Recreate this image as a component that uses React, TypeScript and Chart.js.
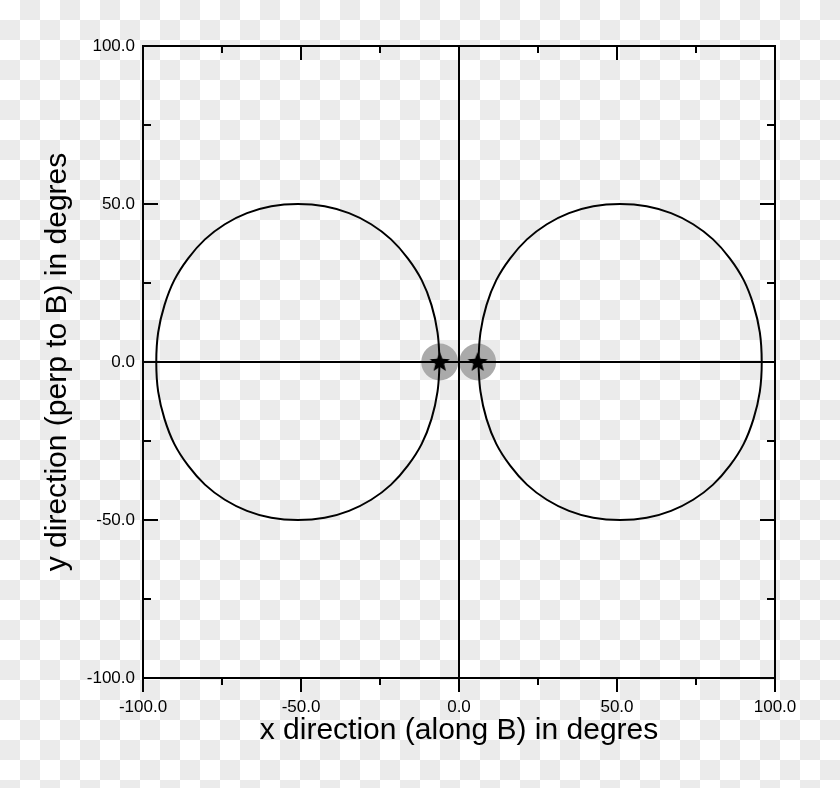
import { useEffect, useRef } from "react"
import { Chart, registerables } from "chart.js"
import type { Plugin } from "chart.js"

Chart.register(...registerables)

// axis range and ticks (minor every 25, labels every 50)
const axisMin = -100
const axisMax = 100
const tickStep = 25
const labeledTicks = [-100, -50, 0, 50, 100]

// loops: start at the inner tip, over the top, round the outer side, back along the bottom
const leftLoopX = [
  -6.1, -6.8, -8.7, -11.8, -16.2, -21.5, -27.8, -34.8, -42.5, -51.0,
  -59.4, -67.1, -74.1, -80.4, -85.7, -90.1, -93.2, -95.2, -95.8,
  -95.2, -93.2, -90.1, -85.7, -80.4, -74.1, -67.1, -59.4, -51.0,
  -42.5, -34.8, -27.8, -21.5, -16.2, -11.8, -8.7, -6.8, -6.1,
]
const rightLoopX = [
  6.1, 6.8, 8.7, 11.8, 16.2, 21.5, 27.8, 34.8, 42.5, 51.0,
  59.4, 67.1, 74.1, 80.4, 85.7, 90.1, 93.2, 95.2, 95.8,
  95.2, 93.2, 90.1, 85.7, 80.4, 74.1, 67.1, 59.4, 51.0,
  42.5, 34.8, 27.8, 21.5, 16.2, 11.8, 8.7, 6.8, 6.1,
]
const loopY = [
  0, 9.4, 18.0, 25.9, 32.8, 38.8, 43.6, 47.1, 49.3, 50.0,
  49.3, 47.1, 43.6, 38.8, 32.8, 25.9, 18.0, 9.4, 0,
  -9.4, -18.0, -25.9, -32.8, -38.8, -43.6, -47.1, -49.3, -50.0,
  -49.3, -47.1, -43.6, -38.8, -32.8, -25.9, -18.0, -9.4, 0,
]

// star markers at the inner tips
const starX = [-6.1, 5.9]
const starY = [0, 0]

// the two zero lines
const hLineX = [-100, 100]
const hLineY = [0, 0]
const vLineX = [0, 0]
const vLineY = [-100, 100]

const font = "'Liberation Sans', Arial, Helvetica, sans-serif"

const toPoints = (xs: number[], ys: number[]) => xs.map((x, i) => ({ x, y: ys[i] }))

function makeStar(): HTMLCanvasElement {
  const c = document.createElement("canvas")
  c.width = 24
  c.height = 24
  const g = c.getContext("2d")!
  g.beginPath()
  for (let i = 0; i < 10; i++) {
    const r = i % 2 === 0 ? 10.5 : 4.6
    const a = -Math.PI / 2 + (i * Math.PI) / 5
    const px = 12 + r * Math.cos(a)
    const py = 12.5 + r * Math.sin(a)
    if (i === 0) g.moveTo(px, py)
    else g.lineTo(px, py)
  }
  g.closePath()
  g.fillStyle = "#000"
  g.fill()
  return c
}

// box round the plot, ticks inward on left/top/right and outward at the bottom
const frameAndTicks: Plugin<"scatter"> = {
  id: "frameAndTicks",
  afterDatasetsDraw(chart) {
    const { ctx, chartArea, scales } = chart
    const { left, right, top, bottom } = chartArea
    ctx.save()
    ctx.strokeStyle = "#000"
    ctx.lineWidth = 2
    ctx.strokeRect(left, top, right - left, bottom - top)
    ctx.beginPath()
    for (const t of scales.x.ticks) {
      const px = scales.x.getPixelForValue(t.value)
      const len = labeledTicks.includes(t.value) ? 14 : 7
      ctx.moveTo(px, bottom)
      ctx.lineTo(px, bottom + len)
      ctx.moveTo(px, top)
      ctx.lineTo(px, top + len)
    }
    for (const t of scales.y.ticks) {
      const py = scales.y.getPixelForValue(t.value)
      const len = labeledTicks.includes(t.value) ? 15 : 8
      ctx.moveTo(left, py)
      ctx.lineTo(left + len, py)
      ctx.moveTo(right, py)
      ctx.lineTo(right - len, py)
    }
    ctx.stroke()
    ctx.restore()
  },
}

export default function App() {
  const chartRef = useRef<HTMLCanvasElement>(null)
  const chartInstance = useRef<Chart | null>(null)

  useEffect(() => {
    if (!chartRef.current) return
    if (chartInstance.current) chartInstance.current.destroy()
    const ctx = chartRef.current.getContext("2d")
    if (!ctx) return

    const tickLabel = (value: string | number) =>
      labeledTicks.includes(Number(value)) ? Number(value).toFixed(1) : ""

    const lineStyle = {
      showLine: true,
      borderColor: "#000",
      borderWidth: 2,
      pointRadius: 0,
      pointHoverRadius: 0,
      fill: false,
    }

    chartInstance.current = new Chart(ctx, {
      type: "scatter",
      data: {
        datasets: [
          {
            label: "stars",
            data: toPoints(starX, starY),
            pointStyle: makeStar(),
            pointRadius: 10,
            backgroundColor: "#000",
            borderColor: "#000",
          },
          { label: "left loop", data: toPoints(leftLoopX, loopY), tension: 0.4, ...lineStyle },
          { label: "right loop", data: toPoints(rightLoopX, loopY), tension: 0.4, ...lineStyle },
          { label: "y = 0", data: toPoints(hLineX, hLineY), ...lineStyle },
          { label: "x = 0", data: toPoints(vLineX, vLineY), ...lineStyle },
          {
            label: "halo",
            data: toPoints(starX, starY),
            pointStyle: "circle",
            pointRadius: 18.5,
            backgroundColor: "#aaaaaa",
            borderWidth: 0,
          },
        ],
      },
      options: {
        responsive: false,
        animation: false,
        layout: { padding: { left: 0, right: 65, top: 46, bottom: 0 } },
        plugins: {
          legend: { display: false },
          tooltip: { enabled: false },
        },
        scales: {
          x: {
            type: "linear",
            min: axisMin,
            max: axisMax,
            grid: { display: false, drawTicks: false },
            border: { display: false },
            ticks: {
              stepSize: tickStep,
              autoSkip: false,
              maxRotation: 0,
              padding: 19,
              color: "#000",
              font: { family: font, size: 17 },
              callback: tickLabel,
            },
            title: {
              display: true,
              text: "x direction (along B) in degres",
              color: "#000",
              font: { family: font, size: 30 },
              padding: { top: 0, bottom: 39 },
            },
            afterFit: (scale) => {
              scale.height = 110
            },
          },
          y: {
            type: "linear",
            min: axisMin,
            max: axisMax,
            grid: { display: false, drawTicks: false },
            border: { display: false },
            ticks: {
              stepSize: tickStep,
              autoSkip: false,
              padding: 8,
              color: "#000",
              font: { family: font, size: 17 },
              callback: tickLabel,
            },
            title: {
              display: true,
              text: "y direction (perp to B) in degres",
              color: "#000",
              font: { family: font, size: 30 },
              padding: { top: 40, bottom: 0 },
            },
            afterFit: (scale) => {
              scale.width = 143
            },
          },
        },
      },
      plugins: [frameAndTicks],
    })

    return () => {
      if (chartInstance.current) {
        chartInstance.current.destroy()
        chartInstance.current = null
      }
    }
  }, [])

  return (
    <div
      style={{
        position: "fixed",
        left: 0,
        top: 0,
        width: 840,
        height: 788,
        background: "repeating-conic-gradient(#ebebeb 0% 25%, #ffffff 0% 50%) 0 0 / 40px 40px",
      }}
    >
      <canvas ref={chartRef} width={840} height={788} style={{ display: "block" }} />
    </div>
  )
}
